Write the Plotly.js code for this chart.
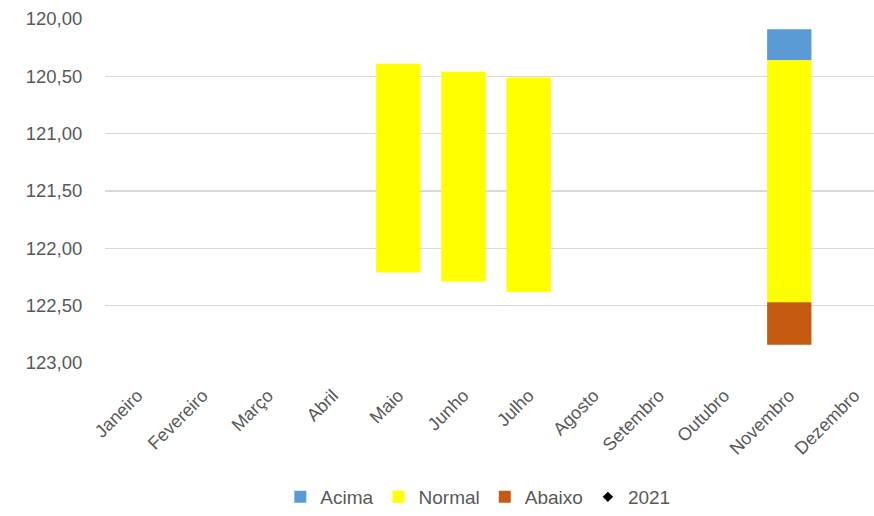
<!DOCTYPE html>
<html>
<head>
<meta charset="utf-8">
<script src="https://cdn.plot.ly/plotly-3.0.1.min.js"></script>
<style>
html,body{margin:0;padding:0;background:#fff;}
#chart{width:874px;height:516px;}
</style>
</head>
<body>
<div id="chart"></div>
<script>
// Categories
const months = ["Janeiro","Fevereiro","Março","Abril","Maio","Junho","Julho","Agosto","Setembro","Outubro","Novembro","Dezembro"];
// Upper limit of the "Acima" band
const acimaTop    = [null,null,null,null,null,null,null,null,null,null,120.09,null];
// Upper limit of the "Normal" band
const normalTop   = [null,null,null,null,120.39,120.46,120.51,null,null,null,120.36,null];
// Lower limit of the "Normal" band
const normalBottom= [null,null,null,null,122.21,122.29,122.38,null,null,null,122.47,null];
// Lower limit of the "Abaixo" band
const abaixoBottom= [null,null,null,null,null,null,null,null,null,null,122.84,null];
// 2021 series (no values shown)
const values2021  = [null,null,null,null,null,null,null,null,null,null,null,null];
// Y tick values
const yTicks = [120,120.5,121,121.5,122,122.5,123];

function diff(a,b){return a.map((v,i)=> (v==null||b[i]==null)?null:+(v-b[i]).toFixed(4));}

const font = {family:"Liberation Sans, Arial, sans-serif", size:18, color:"#595959"};

const traces = [
  {type:"bar", name:"Acima", x:months, base:acimaTop, y:diff(normalTop,acimaTop),
   marker:{color:"#5B9BD5"}, width:0.68, hoverinfo:"skip"},
  {type:"bar", name:"Normal", x:months, base:normalTop, y:diff(normalBottom,normalTop),
   marker:{color:"#FFFF00"}, width:0.68, hoverinfo:"skip"},
  {type:"bar", name:"Abaixo", x:months, base:normalBottom, y:diff(abaixoBottom,normalBottom),
   marker:{color:"#C55A11"}, width:0.68, hoverinfo:"skip"},
  {type:"scatter", mode:"markers", name:"2021", x:months, y:values2021,
   marker:{symbol:"diamond", color:"#000000", size:8}}
];

const layout = {
  width:874, height:516,
  margin:{l:105, r:0, t:19, b:153},
  paper_bgcolor:"#ffffff", plot_bgcolor:"#ffffff",
  separators:",.",
  barmode:"overlay",
  font:font,
  showlegend:true,
  legend:{orientation:"h", x:0.228, xanchor:"left", y:-0.39, yanchor:"middle",
          font:{family:"Liberation Sans, Arial, sans-serif", size:19, color:"#595959"},
          itemwidth:30, traceorder:"normal"},
  xaxis:{type:"category", categoryarray:months, range:[-0.5,11.3],
         tickangle:-45, showgrid:false, zeroline:false, showline:false,
         ticks:"outside", ticklen:14, tickcolor:"rgba(0,0,0,0)",
         tickfont:font, fixedrange:true},
  yaxis:{range:[123,120], tickvals:yTicks, tickformat:".2f",
         showgrid:true, gridcolor:"#d9d9d9", gridwidth:1.3, zeroline:false, showline:false,
         ticks:"outside", ticklen:18, tickcolor:"rgba(0,0,0,0)",
         tickfont:{family:"Liberation Sans, Arial, sans-serif", size:18.5, color:"#595959"}, fixedrange:true}
};

Plotly.newPlot("chart", traces, layout, {displayModeBar:false, staticPlot:true});
</script>
</body>
</html>
